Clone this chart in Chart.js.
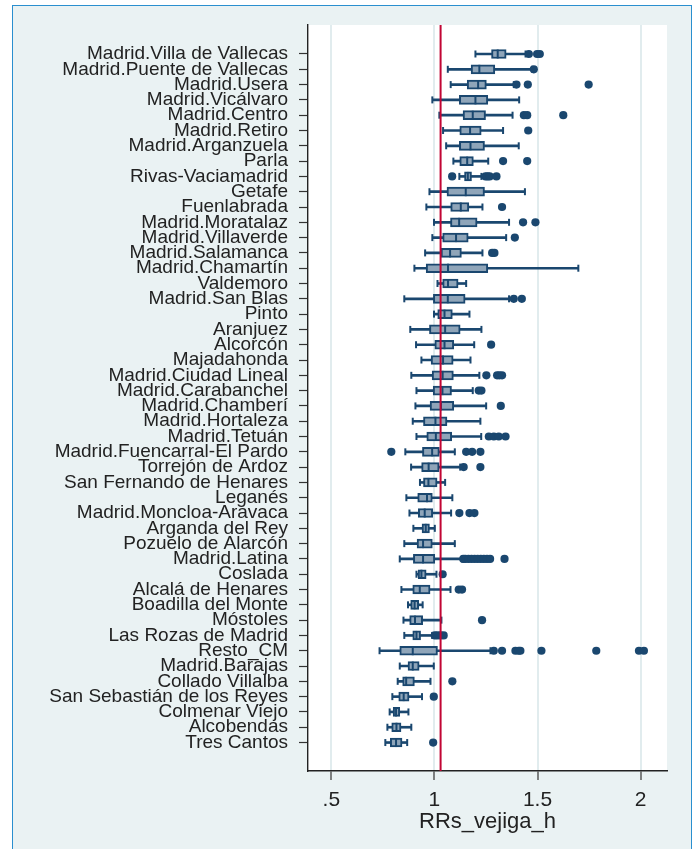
<!DOCTYPE html>
<html>
<head>
<meta charset="utf-8">
<script src="https://cdn.jsdelivr.net/npm/chart.js@4.4.1/dist/chart.umd.min.js"></script>
<style>
  html, body { margin: 0; padding: 0; background: #ffffff; }
  #frame {
    position: absolute; left: 12px; top: 5px; width: 680px; height: 900px;
    background: #eaf2f3; border: 1.5px solid #2a8fcf; box-sizing: border-box;
  }
  #chart { position: absolute; left: 0; top: 0; }
</style>
</head>
<body>
<div id="frame"></div>
<canvas id="chart" width="698" height="849"></canvas>
<script>
const categories = [
  'Madrid.Villa de Vallecas', 'Madrid.Puente de Vallecas', 'Madrid.Usera', 'Madrid.Vicálvaro',
  'Madrid.Centro', 'Madrid.Retiro', 'Madrid.Arganzuela', 'Parla', 'Rivas-Vaciamadrid', 'Getafe',
  'Fuenlabrada', 'Madrid.Moratalaz', 'Madrid.Villaverde', 'Madrid.Salamanca', 'Madrid.Chamartín',
  'Valdemoro', 'Madrid.San Blas', 'Pinto', 'Aranjuez', 'Alcorcón', 'Majadahonda',
  'Madrid.Ciudad Lineal', 'Madrid.Carabanchel', 'Madrid.Chamberí', 'Madrid.Hortaleza',
  'Madrid.Tetuán', 'Madrid.Fuencarral-El Pardo', 'Torrejón de Ardoz', 'San Fernando de Henares',
  'Leganés', 'Madrid.Moncloa-Aravaca', 'Arganda del Rey', 'Pozuelo de Alarcón', 'Madrid.Latina',
  'Coslada', 'Alcalá de Henares', 'Boadilla del Monte', 'Móstoles', 'Las Rozas de Madrid',
  'Resto_CM', 'Madrid.Barajas', 'Collado Villalba', 'San Sebastián de los Reyes',
  'Colmenar Viejo', 'Alcobendas', 'Tres Cantos'
];

const whiskerLow = [1.199, 1.065, 1.079, 0.990, 1.024, 1.042, 1.057, 1.092, 1.121, 0.976,
  0.961, 0.998, 0.990, 0.955, 0.903, 1.015, 0.854, 0.998, 0.883, 0.911, 0.937,
  0.888, 0.913, 0.908, 0.895, 0.913, 0.859, 0.887, 0.930, 0.864, 0.879, 0.898, 0.854, 0.832,
  0.913, 0.840, 0.872, 0.850, 0.854, 0.734, 0.832, 0.822, 0.796, 0.783, 0.772, 0.762];
const q1 = [1.277, 1.178, 1.159, 1.121, 1.139, 1.123, 1.121, 1.123, 1.146, 1.061,
  1.079, 1.078, 1.040, 1.032, 0.960, 1.040, 0.995, 1.016, 0.976, 1.002, 0.984,
  0.989, 0.994, 0.979, 0.947, 0.963, 0.942, 0.938, 0.947, 0.919, 0.922, 0.940, 0.916, 0.898,
  0.921, 0.895, 0.885, 0.880, 0.895, 0.832, 0.872, 0.846, 0.827, 0.800, 0.793, 0.786];
const median = [1.307, 1.218, 1.212, 1.199, 1.186, 1.173, 1.175, 1.159, 1.162, 1.152,
  1.128, 1.120, 1.105, 1.076, 1.066, 1.066, 1.065, 1.049, 1.052, 1.049, 1.042,
  1.040, 1.039, 1.032, 1.005, 1.007, 0.989, 0.972, 0.971, 0.964, 0.953, 0.958, 0.945, 0.945,
  0.937, 0.929, 0.904, 0.906, 0.913, 0.895, 0.895, 0.863, 0.851, 0.814, 0.816, 0.814];
const q3 = [1.348, 1.293, 1.252, 1.259, 1.248, 1.227, 1.243, 1.189, 1.180, 1.243,
  1.167, 1.207, 1.164, 1.131, 1.259, 1.115, 1.149, 1.087, 1.125, 1.094, 1.091,
  1.092, 1.083, 1.094, 1.061, 1.084, 1.024, 1.023, 1.013, 0.990, 0.992, 0.976, 0.990, 1.002,
  0.960, 0.979, 0.924, 0.943, 0.933, 1.015, 0.926, 0.903, 0.877, 0.832, 0.838, 0.843];
const whiskerHigh = [1.442, 1.474, 1.385, 1.411, 1.379, 1.333, 1.409, 1.261, 1.228, 1.439,
  1.233, 1.362, 1.348, 1.233, 1.698, 1.154, 1.362, 1.170, 1.228, 1.193, 1.175,
  1.218, 1.186, 1.251, 1.223, 1.227, 1.099, 1.125, 1.052, 1.087, 1.081, 1.002, 1.099, 1.134,
  1.010, 1.078, 0.943, 1.034, 0.989, 1.272, 0.997, 0.981, 0.940, 0.874, 0.888, 0.868];
const outliers = [
  [1.458, 1.498, 1.511], [1.482], [1.398, 1.453, 1.748], [], [1.434, 1.450, 1.625],
  [1.455], [], [1.333, 1.450], [1.086, 1.248, 1.258, 1.268, 1.301], [],
  [1.328], [1.430, 1.490], [1.390], [1.280, 1.291], [], [], [1.385, 1.424], [], [], [1.275], [],
  [1.252, 1.304, 1.315, 1.328], [1.215, 1.228], [1.322], [], [1.264, 1.288, 1.312, 1.345],
  [0.791, 1.154, 1.183, 1.223], [1.142, 1.223], [], [], [1.121, 1.170, 1.194], [], [],
  [1.140, 1.150, 1.165, 1.180, 1.195, 1.210, 1.225, 1.240, 1.255, 1.270, 1.340],
  [1.040], [1.118, 1.134], [], [1.231], [1.002, 1.015, 1.030, 1.045],
  [1.288, 1.328, 1.393, 1.409, 1.417, 1.519, 1.785, 1.992, 2.016],
  [], [1.087], [0.997], [], [], [0.994]
];
const xTicks = [0.5, 1, 1.5, 2];
const xTickLabels = ['.5', '1', '1.5', '2'];
const refLine = 1.03;

const navy = '#1a476f';
const boxFill = '#8fa5b9';

const idx = categories.map((c, i) => i);

const boxes = idx.map(i => ({ x: [q1[i], q3[i]], y: i }));
const whiskers = idx.map(i => ({ x: [whiskerLow[i], whiskerHigh[i]], y: i }));
const medians = idx.map(i => ({ x: median[i], y: i }));
const caps = idx.flatMap(i => [{ x: whiskerLow[i], y: i }, { x: whiskerHigh[i], y: i }]);
const dots = idx.flatMap(i => outliers[i].map(v => ({ x: v, y: i })));

// white plot region + red reference line
const plotDecor = {
  id: 'plotDecor',
  beforeDraw(chart) {
    const { ctx, chartArea: a } = chart;
    ctx.save();
    ctx.fillStyle = '#ffffff';
    ctx.fillRect(a.left, a.top, a.right - a.left, a.bottom - a.top);
    ctx.restore();
  },
  afterDatasetsDraw(chart) {
    const { ctx, chartArea: a, scales } = chart;
    const px = scales.x.getPixelForValue(refLine);
    ctx.save();
    ctx.strokeStyle = '#c10534';
    ctx.lineWidth = 2;
    ctx.beginPath();
    ctx.moveTo(px, a.top);
    ctx.lineTo(px, a.bottom);
    ctx.stroke();
    ctx.restore();
  }
};

new Chart(document.getElementById('chart'), {
  type: 'scatter',
  data: {
    datasets: [
      {
        label: 'outliers', data: dots, order: 1,
        pointRadius: 4.1, pointBackgroundColor: navy, pointBorderWidth: 0
      },
      {
        label: 'median', data: medians, order: 2,
        pointStyle: 'line', rotation: 90, pointRadius: 4.5,
        pointBorderColor: navy, pointBorderWidth: 2
      },
      {
        label: 'caps', data: caps, order: 3,
        pointStyle: 'line', rotation: 90, pointRadius: 3.5,
        pointBorderColor: navy, pointBorderWidth: 2
      },
      {
        type: 'bar', label: 'box', data: boxes, order: 4, indexAxis: 'y', grouped: false,
        barThickness: 9, backgroundColor: boxFill, borderColor: navy, borderWidth: 2, borderSkipped: false
      },
      {
        type: 'bar', label: 'whisker', data: whiskers, order: 5, indexAxis: 'y', grouped: false,
        barThickness: 2, backgroundColor: navy, borderWidth: 0
      }
    ]
  },
  options: {
    responsive: false,
    animation: false,
    layout: { padding: { top: 25, right: 31, left: 0, bottom: 0 } },
    plugins: { legend: { display: false }, tooltip: { enabled: false } },
    scales: {
      x: {
        type: 'linear', min: 0.387, max: 2.128, offset: false,
        afterBuildTicks: s => { s.ticks = xTicks.map(v => ({ value: v })); },
        afterFit: s => { s.height = 78; },
        grid: { offset: false, color: '#e1ecee', lineWidth: 2, tickLength: 9, tickColor: '#333', tickWidth: 1.2 },
        border: { color: '#222', width: 1.4 },
        ticks: {
          padding: 8, color: '#222',
          font: { family: 'Liberation Sans, Arial, sans-serif', size: 21 },
          callback: v => xTickLabels[xTicks.indexOf(v)]
        },
        title: {
          display: true, text: 'RRs_vejiga_h', color: '#222',
          font: { family: 'Liberation Sans, Arial, sans-serif', size: 22, lineHeight: 1 },
          padding: { top: 0, bottom: 16 }
        }
      },
      y: {
        type: 'linear', reverse: true, min: -1.895, max: 46.86, offset: false,
        afterBuildTicks: s => { s.ticks = idx.map(i => ({ value: i })); },
        afterFit: s => { s.width = 308; },
        grid: { offset: false, drawOnChartArea: false, tickLength: 9, tickColor: '#333', tickWidth: 1.2 },
        border: { color: '#222', width: 1.4 },
        ticks: {
          autoSkip: false, padding: 11, color: '#222',
          font: { family: 'Liberation Sans, Arial, sans-serif', size: 19, lineHeight: 1 },
          callback: v => categories[v]
        }
      }
    }
  },
  plugins: [plotDecor]
});
</script>
</body>
</html>
